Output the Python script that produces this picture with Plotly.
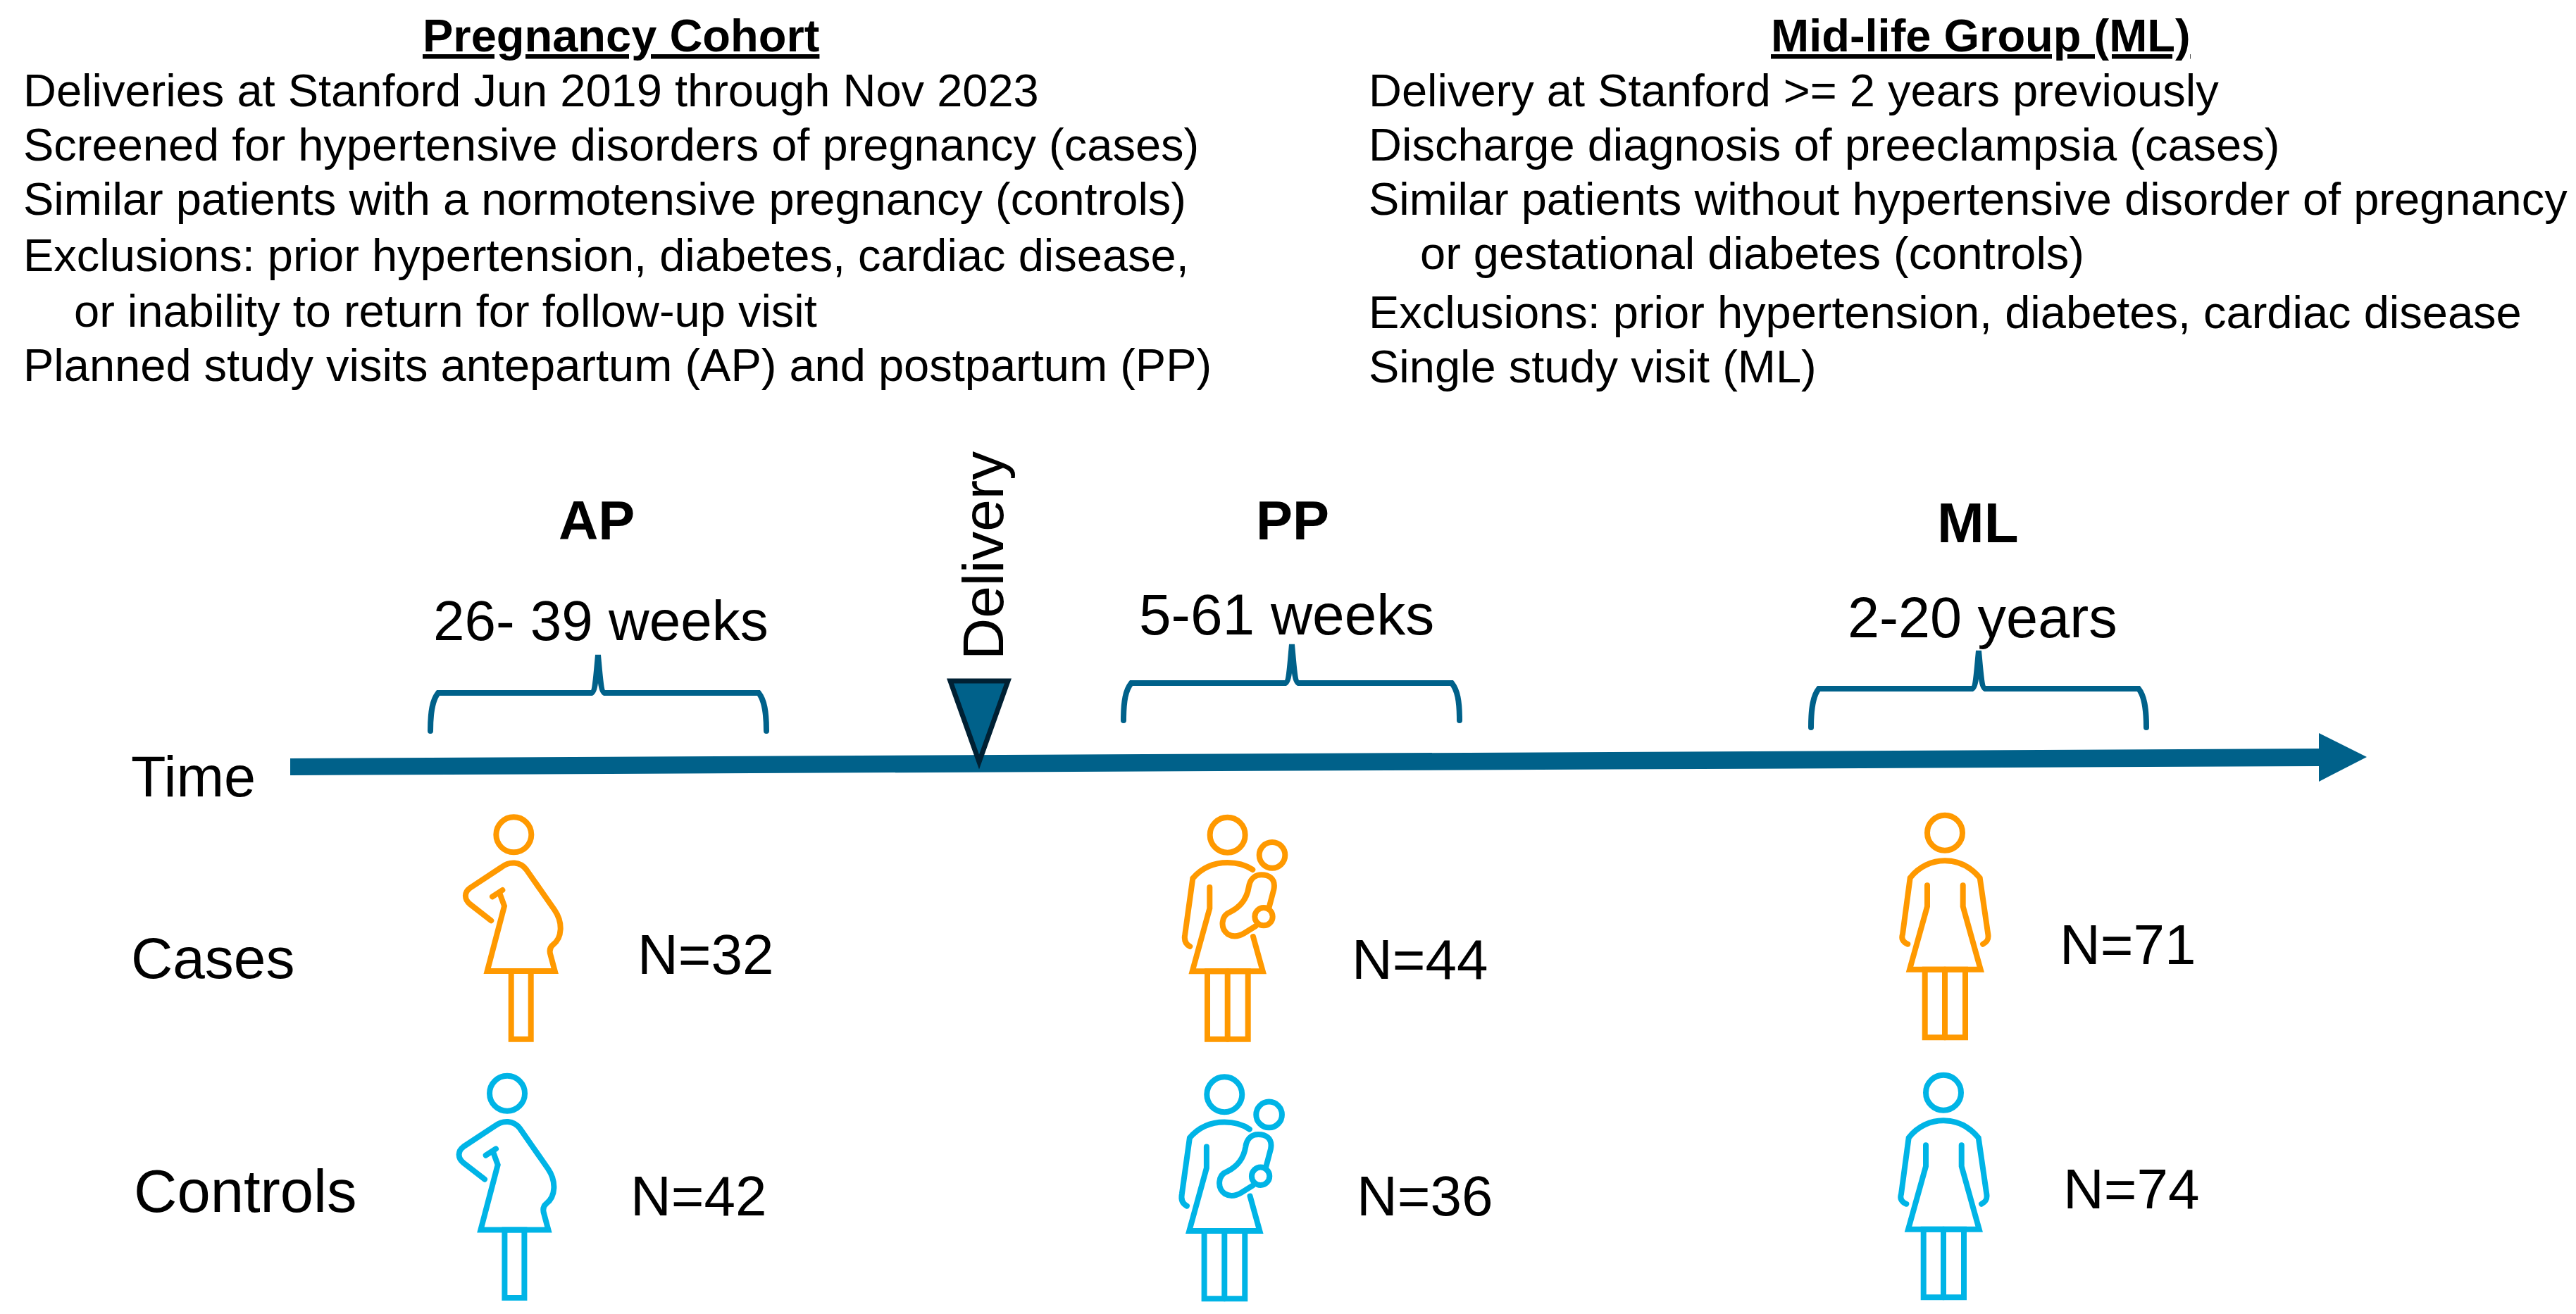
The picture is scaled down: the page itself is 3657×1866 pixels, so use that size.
"""
plot.py - study design schematic (pregnancy cohort and mid-life group)
"""

import re
import plotly.graph_objects as go

# ── Data ──────────────────────────────────────────────────────────────────────
VISITS = ["AP", "PP", "ML"]
VISIT_WINDOWS = ["26- 39 weeks", "5-61 weeks", "2-20 years"]
CASES_N = [32, 44, 71]
CONTROLS_N = [42, 36, 74]
GROUPS = ["Cases", "Controls"]

LEFT_TITLE = "Pregnancy Cohort"
LEFT_LINES = [
    "Deliveries at Stanford Jun 2019 through Nov 2023",
    "Screened for hypertensive disorders of pregnancy (cases)",
    "Similar patients with a normotensive pregnancy (controls)",
    "Exclusions: prior hypertension, diabetes, cardiac disease,",
    "or inability to return for follow-up visit",
    "Planned study visits antepartum (AP) and postpartum (PP)",
]
RIGHT_TITLE = "Mid-life Group (ML)"
RIGHT_LINES = [
    "Delivery at Stanford >= 2 years previously",
    "Discharge diagnosis of preeclampsia (cases)",
    "Similar patients without hypertensive disorder of pregnancy",
    "or gestational diabetes (controls)",
    "Exclusions: prior hypertension, diabetes, cardiac disease",
    "Single study visit (ML)",
]

# ── Config ────────────────────────────────────────────────────────────────────
W, H = 3657, 1866
FONT = "Liberation Sans"
BLUE_DARK = "#00618A"
NAVY = "#002033"
ORANGE = "#FF9900"
SKY = "#00B4E6"
ICON_WIDTH = 8
BRACKET_WIDTH = 8

LEFT_Y = [128, 205, 282, 362, 441, 518]
LEFT_X = [31, 31, 31, 31, 103, 31]
RIGHT_Y = [128, 205, 282, 359, 443, 520]
RIGHT_X = [1941, 1941, 1941, 2014, 1941, 1941]

VISIT_POS = [(847, 739), (1835, 739), (2808, 742)]
VISIT_SIZES = [78, 78, 80]
WINDOW_POS = [(853, 881), (1826, 872), (2814, 877)]
WINDOW_SIZES = [80, 82, 81]
CASES_POS = [(1001, 1355), (2015, 1362), (3020, 1341)]
CONTROLS_POS = [(991, 1698), (2022, 1698), (3025, 1688)]
GROUP_POS = [(184, 1360), (188, 1691)]
GROUP_SIZES = [82, 85]

# left, right, centre, peak, bar, bottom
BRACKETS = [
    (611, 1088, 849, 930, 984, 1038),
    (1595, 2072, 1834, 915, 970, 1023),
    (2571, 3047, 2809, 924, 978, 1033),
]

# Icons are traced in 3x units, relative to a corner
PREGNANT = {
    "circles": [(538, 316, 75)],
    "paths": [
        "M442,682 L352,612 C325,590 328,560 352,543 L485,455 C520,428 565,430 592,465 "
        "L712,637 C748,690 745,755 705,785 C690,797 690,815 695,830 L713,897 L425,897 "
        "L498,620 L478,565",
        "M447,580 L490,552",
        "M527,897 L527,1187 L611,1187 L611,897 Z",
    ],
}
MOTHER = {
    "circles": [(428, 167, 75), (618, 253, 55), (582, 515, 38)],
    "paths": [
        "M268,642 C245,630 243,610 247,590 L280,352 C320,305 375,285 428,285 "
        "C470,285 505,295 535,315",
        "M352,390 L352,480 L278,748 L578,748 L537,600",
        "M605,475 L625,400 C635,350 600,337 572,337 C540,337 522,360 518,390 "
        "C510,440 480,475 440,495 C400,510 395,565 430,590 C455,605 480,597 500,585 L548,555",
        "M342,748 L342,1037 L515,1037 L515,748 Z",
        "M428,748 L428,1037",
    ],
}
WOMAN = {
    "circles": [(363, 158, 75)],
    "paths": [
        "M205,632 C180,622 178,605 183,590 L215,350 C255,300 310,277 363,277 "
        "C416,277 470,300 512,350 L547,590 C550,610 545,622 525,632",
        "M288,382 L288,472 L213,740 L515,740 L440,472 L440,382",
        "M278,740 L278,1030 L450,1030 L450,740 Z",
        "M363,740 L363,1030",
    ],
}
ICON_PLACES = [
    (PREGNANT, 550, 1080, ORANGE),
    (MOTHER, 1600, 1130, ORANGE),
    (WOMAN, 2640, 1130, ORANGE),
    (PREGNANT, 540.7, 1447.4, SKY),
    (MOTHER, 1595.6, 1498.6, SKY),
    (WOMAN, 2638, 1499, SKY),
]


def place(path, ox, oy):
    return re.sub(
        r"(-?[\d.]+),(-?[\d.]+)",
        lambda m: f"{ox + float(m[1]) / 3:.1f},{oy + float(m[2]) / 3:.1f}",
        path,
    )


def bracket_path(l, r, c, peak, bar, bot):
    return (
        f"M{l},{bot} C{l},{bot - 28} {l + 3},{bar + 10} {l + 11},{bar} "
        f"L{c - 10},{bar} C{c - 4},{bar} {c - 3},{bar - 22} {c},{peak} "
        f"C{c + 3},{bar - 22} {c + 4},{bar} {c + 10},{bar} "
        f"L{r - 11},{bar} C{r - 3},{bar + 10} {r},{bot - 28} {r},{bot}"
    )


fig = go.Figure()


def add_text(text, x, y, size, xanchor="center", angle=0):
    fig.add_annotation(
        x=x, y=y, text=text, showarrow=False, xanchor=xanchor, yanchor="middle",
        textangle=angle, font=dict(family=FONT, size=size, color="black"),
    )


# ── Texte du haut ─────────────────────────────────────────────────────────────
add_text(f"<b><u>{LEFT_TITLE}</u></b>", 881, 50, 65)
add_text(f"<b><u>{RIGHT_TITLE}</u></b>", 2812, 50, 65)
for line, x, y in zip(LEFT_LINES, LEFT_X, LEFT_Y):
    add_text(line, x, y, 65, xanchor="left")
for line, x, y in zip(RIGHT_LINES, RIGHT_X, RIGHT_Y):
    add_text(line, x, y, 65, xanchor="left")

# ── Timeline ──────────────────────────────────────────────────────────────────
fig.add_shape(
    type="path",
    path="M412,1077 L3292,1063 L3292,1041 L3360,1075 L3292,1110 L3292,1088 L412,1101 Z",
    fillcolor=BLUE_DARK, line=dict(width=0),
)
fig.add_shape(
    type="path", path="M1349,967 L1431,967 L1390,1082 Z",
    fillcolor=BLUE_DARK, line=dict(color=NAVY, width=7),
)
for b in BRACKETS:
    fig.add_shape(type="path", path=bracket_path(*b), line=dict(color=BLUE_DARK, width=BRACKET_WIDTH))

add_text("Time", 184, 1103, 81, xanchor="left")
add_text("Delivery", 1395, 789, 82, angle=-90)

for name, size, pos in zip(VISITS, VISIT_SIZES, VISIT_POS):
    add_text(f"<b>{name}</b>", pos[0], pos[1], size)
for win, size, pos in zip(VISIT_WINDOWS, WINDOW_SIZES, WINDOW_POS):
    add_text(win, pos[0], pos[1], size)

for name, size, pos in zip(GROUPS, GROUP_SIZES, GROUP_POS):
    add_text(name, pos[0], pos[1], size, xanchor="left")
for n, pos in zip(CASES_N, CASES_POS):
    add_text(f"N={n}", pos[0], pos[1], 80)
for n, pos in zip(CONTROLS_N, CONTROLS_POS):
    add_text(f"N={n}", pos[0], pos[1], 80)

# ── Pictogrammes ──────────────────────────────────────────────────────────────
for icon, ox, oy, color in ICON_PLACES:
    for cx, cy, r in icon["circles"]:
        fig.add_shape(
            type="circle",
            x0=ox + (cx - r) / 3, x1=ox + (cx + r) / 3,
            y0=oy + (cy - r) / 3, y1=oy + (cy + r) / 3,
            line=dict(color=color, width=ICON_WIDTH),
        )
    for p in icon["paths"]:
        fig.add_shape(type="path", path=place(p, ox, oy), line=dict(color=color, width=ICON_WIDTH))

fig.update_layout(
    width=W, height=H,
    margin=dict(t=0, l=0, r=0, b=0),
    plot_bgcolor="white", paper_bgcolor="white",
    xaxis=dict(range=[0, W], visible=False, fixedrange=True),
    yaxis=dict(range=[H, 0], visible=False, fixedrange=True),
    showlegend=False,
)

# marge du body à zéro et bouts de trait arrondis sur les pictogrammes
fig.write_html(
    "out.html",
    config={"displayModeBar": False},
    post_script=(
        "document.body.style.margin='0';"
        "document.querySelectorAll('.shapelayer path').forEach(function(p){"
        "p.style.strokeLinecap='round';});"
    ),
)
